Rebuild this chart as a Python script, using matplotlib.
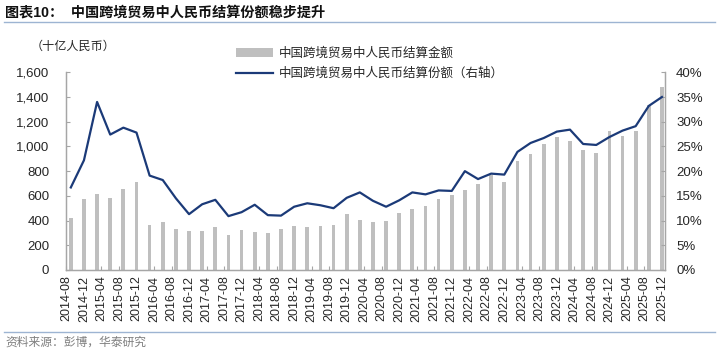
import matplotlib
matplotlib.use("Agg")
import matplotlib.pyplot as plt
import matplotlib.lines as mlines
import numpy as np
import pandas as pd

plt.rcParams['font.family'] = ['Liberation Sans', 'Noto Sans CJK SC', 'DejaVu Sans']

# quarterly data points (quarter-end months)
quarters = pd.period_range('2014-09', '2025-12', freq='3M')
amount = [418, 571, 617, 582, 655, 714, 367, 388, 334, 313,
          318, 348, 283, 323, 307, 302, 334, 353, 348, 353,
          367, 450, 405, 386, 400, 459, 497, 519, 576, 608,
          649, 700, 765, 711, 881, 938, 1022, 1073, 1041, 968,
          949, 1127, 1086, 1127, 1335, 1483]
share = [16.7, 22.2, 34.0, 27.4, 28.8, 27.8, 19.1, 18.2, 14.5, 11.3,
         13.3, 14.2, 10.9, 11.7, 13.2, 11.1, 11.0, 12.8, 13.5, 13.1,
         12.5, 14.6, 15.7, 14.0, 12.8, 14.1, 15.7, 15.3, 16.1, 16.0,
         20.0, 18.4, 19.5, 19.3, 23.9, 25.7, 26.7, 28.0, 28.4, 25.5,
         25.3, 26.9, 28.2, 29.1, 33.2, 35.0]
tick_months = pd.period_range('2014-08', '2025-12', freq='4M')
tick_labels = [p.strftime('%Y-%m') for p in tick_months]

title = "图表10：  中国跨境贸易中人民币结算份额稳步提升"
unit = "（十亿人民币）"
bar_label = "中国跨境贸易中人民币结算金额"
line_label = "中国跨境贸易中人民币结算份额（右轴）"
source = "资料来源：彭博，华泰研究"

base = pd.Period('2014-08', freq='M')
def midx(p):
    p = pd.Period(p.strftime('%Y-%m'), freq='M')
    return (p - base).n

x = np.array([midx(q) for q in quarters])
xt = np.array([midx(t) for t in tick_months])

fig = plt.figure(figsize=(7.19, 3.51), dpi=100)
ax = fig.add_axes([66/719, 1-270/351, (665-66)/719, (270-72.3)/351])
ax2 = ax.twinx()

bar_c = '#BFBFBF'
line_c = '#1B3A78'
axis_c = '#A6A6A6'
txt_c = '#262626'

bars = ax.bar(x, amount, width=0.85, color=bar_c, zorder=2)
ln, = ax2.plot(x, share, color=line_c, lw=1.6, zorder=3)

ax.set_xlim(-0.1, 136.7)
ax.set_ylim(0, 1600)
ax2.set_ylim(0, 40)
ax.set_yticks(np.arange(0, 1601, 200))
ax.set_yticklabels([f"{v:,}" for v in range(0, 1601, 200)])
ax2.set_yticks(np.arange(0, 41, 5))
ax2.set_yticklabels([f"{v}%" for v in range(0, 41, 5)])
ax.set_xticks(xt)
ax.set_xticklabels(tick_labels, rotation=90)

for a in (ax, ax2):
    a.spines['top'].set_visible(False)
    for s in ('left', 'right', 'bottom'):
        a.spines[s].set_color(axis_c)
        a.spines[s].set_linewidth(0.9)
ax.tick_params(axis='y', direction='in', length=3, color=axis_c, labelsize=9.5, labelcolor=txt_c, pad=12)
ax2.tick_params(axis='y', direction='in', length=3, color=axis_c, labelsize=9.5, labelcolor=txt_c, pad=8)
ax.tick_params(axis='x', direction='in', length=3, color=axis_c, labelsize=9, labelcolor=txt_c, pad=4)

fig.text(5/719, 1-12/351, title, fontsize=10.2, fontweight='bold', color='#111111', va='center', ha='left')
fig.add_artist(mlines.Line2D([4/719, 715/719], [1-21.7/351]*2, color='#9DB4D2', lw=1.0))
fig.add_artist(mlines.Line2D([4/719, 715/719], [1-331.7/351]*2, color='#9DB4D2', lw=1.0))
fig.text(5/719, 1-343/351, source, fontsize=8.5, color='#7F7F7F', va='center', ha='left')
fig.text(31/719, 1-47/351, unit, fontsize=8.7, color=txt_c, va='center', ha='left')

leg = fig.legend([bars, ln], [bar_label, line_label], loc='upper left',
                 bbox_to_anchor=(236/719, 1-47.5/351), frameon=False,
                 fontsize=9, handlelength=2.95, handletextpad=0.45,
                 labelspacing=0.6, borderpad=0, borderaxespad=0)
for t in leg.get_texts():
    t.set_color(txt_c)

fig.savefig('out.png', dpi=100)
